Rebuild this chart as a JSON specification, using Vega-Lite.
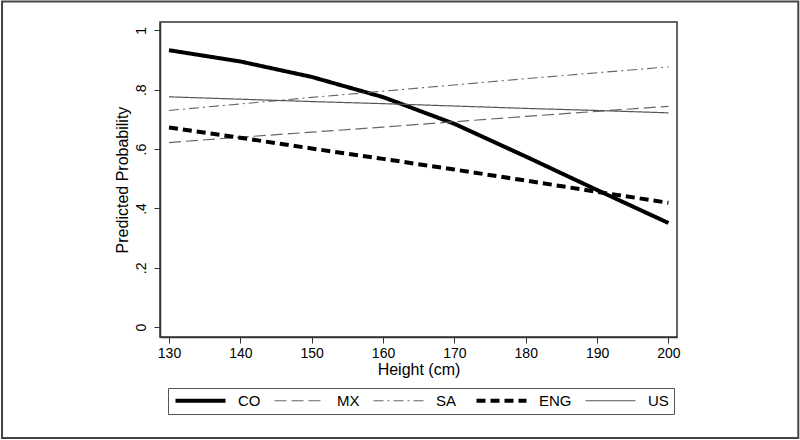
{
  "$schema": "https://vega.github.io/schema/vega-lite/v6.json",
  "width": 517,
  "height": 315,
  "autosize": {"type": "none"},
  "padding": {"left": 160, "top": 22, "right": 123, "bottom": 103},
  "background": "white",
  "config": {
    "font": "Liberation Sans",
    "view": {"stroke": "#333", "strokeWidth": 1.5},
    "axis": {
      "grid": false,
      "domainColor": "#333",
      "domainWidth": 1.5,
      "tickColor": "#333",
      "tickSize": 6,
      "labelColor": "#000",
      "titleColor": "#000",
      "labelFontSize": 14,
      "titleFontSize": 16,
      "titleFontWeight": "normal",
      "labelFont": "Liberation Sans",
      "titleFont": "Liberation Sans"
    },
    "legend": {
      "orient": "none",
      "legendX": 8,
      "legendY": 366,
      "direction": "horizontal",
      "columns": 5,
      "symbolType": "M-5,0H5",
      "symbolSize": 100,
      "symbolOffset": 20,
      "labelFontSize": 15,
      "labelFont": "Liberation Sans",
      "labelColor": "#000",
      "labelOffset": 30,
      "columnPadding": 11,
      "padding": 5,
      "strokeColor": "#555",
      "fillColor": "white"
    }
  },
  "layer": [
    {
      "data": {
        "values": [
          {"country": "CO", "height": 130, "prob": 0.933},
          {"country": "CO", "height": 140, "prob": 0.895},
          {"country": "CO", "height": 150, "prob": 0.843},
          {"country": "CO", "height": 160, "prob": 0.775},
          {"country": "CO", "height": 170, "prob": 0.685},
          {"country": "CO", "height": 180, "prob": 0.575},
          {"country": "CO", "height": 190, "prob": 0.462},
          {"country": "CO", "height": 200, "prob": 0.351},
          {"country": "MX", "height": 130, "prob": 0.622},
          {"country": "MX", "height": 140, "prob": 0.640},
          {"country": "MX", "height": 150, "prob": 0.657},
          {"country": "MX", "height": 160, "prob": 0.674},
          {"country": "MX", "height": 170, "prob": 0.692},
          {"country": "MX", "height": 180, "prob": 0.710},
          {"country": "MX", "height": 190, "prob": 0.727},
          {"country": "MX", "height": 200, "prob": 0.744},
          {"country": "SA", "height": 130, "prob": 0.730},
          {"country": "SA", "height": 140, "prob": 0.752},
          {"country": "SA", "height": 150, "prob": 0.774},
          {"country": "SA", "height": 160, "prob": 0.795},
          {"country": "SA", "height": 170, "prob": 0.816},
          {"country": "SA", "height": 180, "prob": 0.837},
          {"country": "SA", "height": 190, "prob": 0.857},
          {"country": "SA", "height": 200, "prob": 0.877},
          {"country": "ENG", "height": 130, "prob": 0.673},
          {"country": "ENG", "height": 140, "prob": 0.638},
          {"country": "ENG", "height": 150, "prob": 0.602},
          {"country": "ENG", "height": 160, "prob": 0.567},
          {"country": "ENG", "height": 170, "prob": 0.531},
          {"country": "ENG", "height": 180, "prob": 0.494},
          {"country": "ENG", "height": 190, "prob": 0.456},
          {"country": "ENG", "height": 200, "prob": 0.419},
          {"country": "US", "height": 130, "prob": 0.776},
          {"country": "US", "height": 140, "prob": 0.768},
          {"country": "US", "height": 150, "prob": 0.760},
          {"country": "US", "height": 160, "prob": 0.753},
          {"country": "US", "height": 170, "prob": 0.745},
          {"country": "US", "height": 180, "prob": 0.737},
          {"country": "US", "height": 190, "prob": 0.730},
          {"country": "US", "height": 200, "prob": 0.722}
        ]
      },
      "mark": {"type": "line", "strokeCap": "butt"},
      "encoding": {
        "x": {
          "field": "height",
          "type": "quantitative",
          "title": "Height (cm)",
          "scale": {"domain": [128.74, 201.2], "nice": false, "zero": false},
          "axis": {"values": [130, 140, 150, 160, 170, 180, 190, 200], "labelPadding": 3, "titlePadding": 1}
        },
        "y": {
          "field": "prob",
          "type": "quantitative",
          "title": "Predicted Probability",
          "scale": {"domain": [-0.033, 1.028], "nice": false, "zero": false},
          "axis": {
            "values": [0, 0.2, 0.4, 0.6, 0.8, 1],
            "labelAngle": -90,
            "labelAlign": "center",
            "labelBaseline": "bottom",
            "labelPadding": 6,
            "titlePadding": 4,
            "labelExpr": "datum.value < 0.01 ? '0' : datum.value > 0.99 ? '1' : replace(format(datum.value, '.1f'), '0.', '.')"
          }
        },
        "detail": {"field": "country"},
        "color": {
          "field": "country",
          "type": "nominal",
          "title": null,
          "scale": {"domain": ["CO", "MX", "SA", "ENG", "US"], "range": ["#000000", "#666666", "#666666", "#000000", "#555555"]}
        },
        "strokeDash": {
          "field": "country",
          "type": "nominal",
          "title": null,
          "scale": {"domain": ["CO", "MX", "SA", "ENG", "US"], "range": [[1, 0], [12, 5], [10, 4, 2, 4], [9, 5], [1, 0]]}
        },
        "strokeWidth": {
          "field": "country",
          "type": "nominal",
          "title": null,
          "scale": {"type": "ordinal", "domain": ["CO", "MX", "SA", "ENG", "US"], "range": [4, 1.2, 1.1, 4, 1.2]}
        }
      }
    },
    {
      "data": {"values": [{}]},
      "mark": {"type": "rect", "fill": null, "stroke": "#444", "strokeWidth": 2, "clip": false},
      "encoding": {
        "x": {"datum": 106.6, "type": "quantitative", "title": "Height (cm)"},
        "x2": {"datum": 218.2},
        "y": {"datum": 1.097, "type": "quantitative", "title": "Predicted Probability"},
        "y2": {"datum": -0.373}
      }
    }
  ]
}
